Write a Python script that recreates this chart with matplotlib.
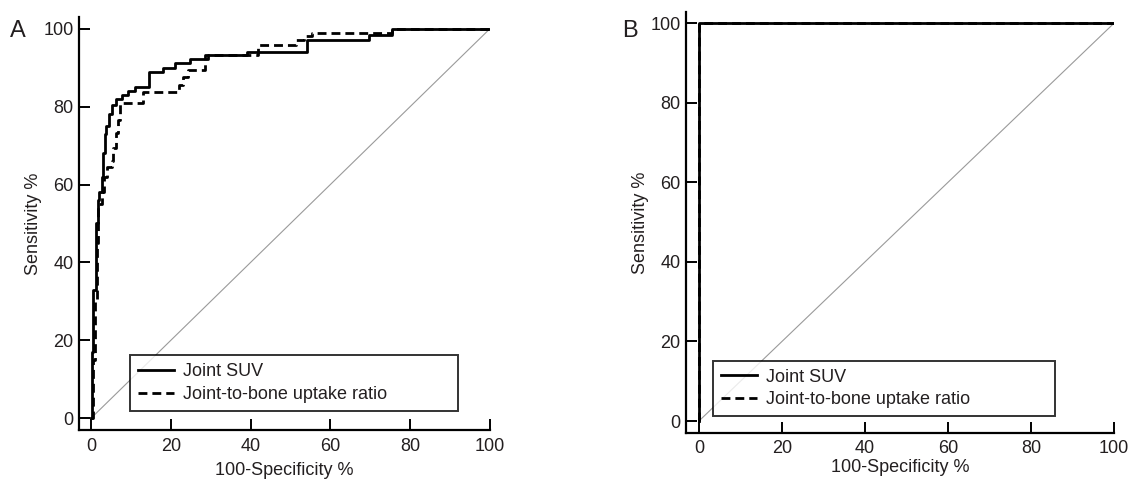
import matplotlib
matplotlib.use("Agg")
import matplotlib.pyplot as plt

plt.rcParams['font.family'] = ['Liberation Sans', 'DejaVu Sans']
plt.rcParams['font.size'] = 13

# ROC curve vertices (100-Specificity %, Sensitivity %)
suv_fpr_a = [0, 0.2, 0.2, 0.6, 0.6, 1.25, 1.25, 1.8, 1.8, 2.1, 2.1, 2.7, 2.7, 3.1, 3.1,
             3.5, 3.5, 3.75, 3.75, 4.6, 4.6, 5.25, 5.25, 6.4, 6.4, 7.7, 7.7, 9.3, 9.3,
             11, 11, 14.5, 14.5, 18, 18, 21, 21, 24.75, 24.75, 29.25, 29.25, 39, 39,
             54.25, 54.25, 69.75, 69.75, 75.5, 75.5, 100]
suv_tpr_a = [0, 0, 17, 17, 33, 33, 50, 50, 56, 56, 58, 58, 62, 62, 68,
             68, 73, 73, 75, 75, 78, 78, 80.5, 80.5, 82, 82, 83, 83, 84,
             84, 85, 85, 89, 89, 90, 90, 91.3, 91.3, 92.3, 92.3, 93.3, 93.3, 94,
             94, 97, 97, 98.5, 98.5, 100, 100]

ratio_fpr_a = [0, 0.4, 0.4, 1.0, 1.0, 1.4, 1.4, 1.8, 1.8, 2.7, 2.7, 3.2, 3.2, 3.9, 3.9,
               5.2, 5.2, 5.6, 5.6, 6.4, 6.4, 6.8, 6.8, 7.25, 7.25, 13, 13, 21, 22, 22,
               23, 23, 24.25, 24.25, 28.5, 28.5, 41.75, 41.75, 51.4, 51.4, 53.5, 53.5,
               55.5, 55.5, 75.5, 75.5, 100]
ratio_tpr_a = [0, 0, 15, 15, 30, 30, 45, 45, 55, 55, 58, 58, 62, 62, 64.5,
               64.5, 66, 66, 69.4, 69.4, 73.3, 73.3, 76.6, 76.6, 81, 81, 83.7, 83.7, 83.7, 85.5,
               85.5, 87.5, 87.5, 89.5, 89.5, 93.3, 93.3, 95.9, 95.9, 97, 97, 98,
               98, 99, 99, 100, 100]

suv_fpr_b = [0, 0, 100]
suv_tpr_b = [0, 100, 100]
ratio_fpr_b = [0, 0, 100]
ratio_tpr_b = [0, 100, 100]

ticks = [0, 20, 40, 60, 80, 100]
labels = ["Joint SUV", "Joint-to-bone uptake ratio"]
txt = '#231f20'

fig = plt.figure(figsize=(11.3, 4.8), dpi=100)
ax_a = fig.add_axes([0.0699, 0.1042, 0.3637, 0.8604])
ax_b = fig.add_axes([0.6071, 0.0979, 0.3788, 0.8771])

panels = [
    (ax_a, suv_fpr_a, suv_tpr_a, ratio_fpr_a, ratio_tpr_a, (-3, 100), (-3, 103),
     (0.124, 0.046, 0.798, 0.143), 6, 5),
    (ax_b, suv_fpr_b, suv_tpr_b, ratio_fpr_b, ratio_tpr_b, (-3.1, 100), (-3, 102.8),
     (0.063, 0.040, 0.799, 0.157), 5, 1.5),
]

for ax, sx, sy, rx, ry, xl, yl, lbox, xpad, xlpad in panels:
    ax.plot([0, 100], [0, 100], color='#9a9a9a', lw=0.8, zorder=1)
    ax.plot(rx, ry, color='black', lw=2.0, ls=(0, (3.2, 1.8)), label=labels[1], zorder=2)
    ax.plot(sx, sy, color='black', lw=2.0, label=labels[0], zorder=3)

    ax.set_xlim(*xl)
    ax.set_ylim(*yl)
    ax.set_xticks(ticks)
    ax.set_yticks(ticks)
    ax.spines['top'].set_visible(False)
    ax.spines['right'].set_visible(False)
    for s in ['left', 'bottom']:
        ax.spines[s].set_linewidth(1.6)
    ax.tick_params(direction='in', length=8, width=1.4, pad=4, labelsize=13,
                   labelcolor=txt)
    ax.tick_params(axis='x', pad=xpad)
    ax.set_xlabel("100-Specificity %", color=txt, fontsize=13, labelpad=xlpad)
    ax.set_ylabel("Sensitivity %", color=txt, fontsize=13, labelpad=1)

    h, l = ax.get_legend_handles_labels()
    leg = ax.legend([h[1], h[0]], [l[1], l[0]], loc='lower left', bbox_to_anchor=lbox,
                    mode='expand', fancybox=False, frameon=True, edgecolor='black',
                    fontsize=13, handlelength=2.0, handletextpad=0.5,
                    labelspacing=0.3, borderpad=0.45, borderaxespad=0)
    leg.get_frame().set_linewidth(1.4)
    for t in leg.get_texts():
        t.set_color(txt)

fig.text(0.0088, 0.923, "A", fontsize=17, color=txt, va='baseline')
fig.text(0.5504, 0.923, "B", fontsize=17, color=txt, va='baseline')

fig.savefig("out.png", dpi=100)
